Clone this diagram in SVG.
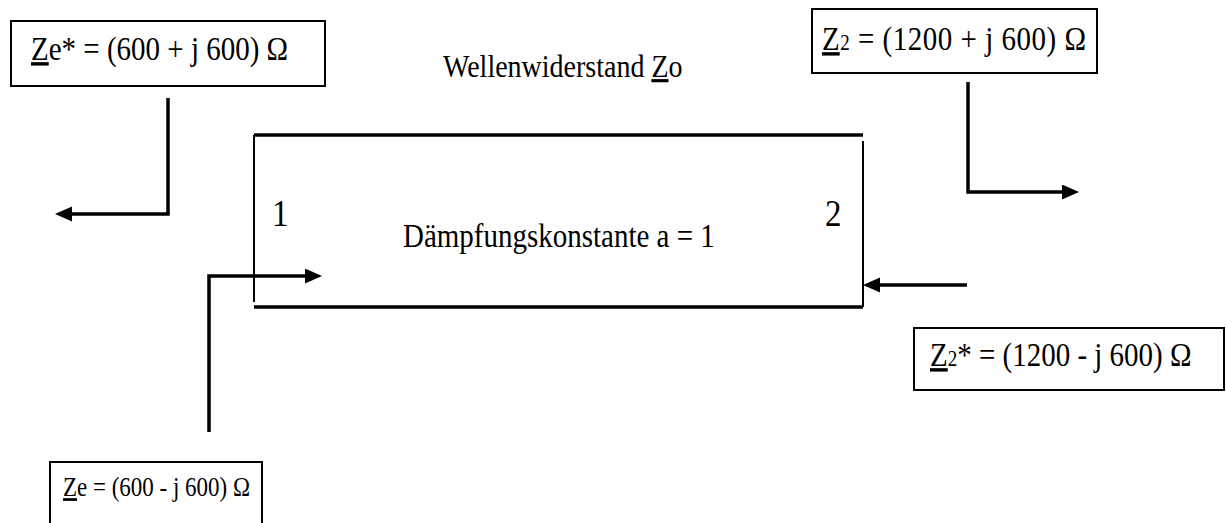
<svg xmlns="http://www.w3.org/2000/svg" width="1226" height="523" viewBox="0 0 1226 523">
<style>
  text { font-family: "Liberation Serif", "Times New Roman", serif; fill: #000; }
  .t { font-size: 29px; }
  .w { font-size: 28px; }
  .s { font-size: 23px; }
  .big { font-size: 33px; }
  .u { text-decoration: underline; }
  .sub { font-size: 19px; }
  .box { fill: #fff; stroke: #000; stroke-width: 2; }
  .conn { fill: none; stroke: #000; stroke-width: 3.5; stroke-linejoin: miter; }
  .thick { stroke: #000; stroke-width: 3.5; }
  .thin { stroke: #000; stroke-width: 2; }
</style>
<defs>
  <marker id="ah" markerUnits="userSpaceOnUse" markerWidth="18" markerHeight="16" refX="1" refY="7.5" orient="auto">
    <path d="M0,0 L17,7.5 L0,15 z" fill="#000"/>
  </marker>
</defs>

<g id="line">
  <line class="thick" x1="254" y1="135" x2="863" y2="135"/>
  <line class="thick" x1="254" y1="307" x2="863" y2="307"/>
  <line class="thin" x1="254" y1="135" x2="254" y2="302"/>
  <line class="thin" x1="863" y1="141" x2="863" y2="307"/>
  <text class="big" transform="translate(272,226) scale(1,1.18)">1</text>
  <text class="big" transform="translate(825,226) scale(1,1.18)">2</text>
  <text class="t" transform="translate(403,247) scale(1,1.18)">Dämpfungskonstante a = 1</text>
</g>

<g id="wellen">
  <text class="w" transform="translate(443,77) scale(1,1.12)">Wellenwiderstand <tspan class="u">Z</tspan>o</text>
</g>

<g id="ze-star">
  <rect class="box" x="11" y="21" width="314" height="65"/>
  <text class="t" transform="translate(31,60) scale(1,1.18)"><tspan class="u">Z</tspan>e* = (600 + j 600) Ω</text>
</g>

<g id="z2">
  <rect class="box" x="812" y="9" width="285" height="64"/>
  <text class="t" transform="translate(822,50) scale(1,1.18)" textLength="264"><tspan class="u">Z</tspan><tspan class="sub">2</tspan> = (1200 + j 600) Ω</text>
</g>

<g id="z2-star">
  <rect class="box" x="914" y="328" width="310" height="62"/>
  <text class="t" transform="translate(930,366) scale(1,1.18)"><tspan class="u">Z</tspan><tspan class="sub">2</tspan>* = (1200 - j 600) Ω</text>
</g>

<g id="ze">
  <rect class="box" x="50" y="462" width="212" height="72"/>
  <text class="s" transform="translate(63,496) scale(1,1.18)"><tspan class="u">Z</tspan>e = (600 - j 600) Ω</text>
</g>

<g id="connectors">
  <path class="conn" d="M168,98 V214 H71" marker-end="url(#ah)"/>
  <path class="conn" d="M968,82 V192 H1063" marker-end="url(#ah)"/>
  <path class="conn" d="M209,432 V276 H306" marker-end="url(#ah)"/>
  <path class="conn" d="M967,285 H879" marker-end="url(#ah)"/>
</g>
</svg>
